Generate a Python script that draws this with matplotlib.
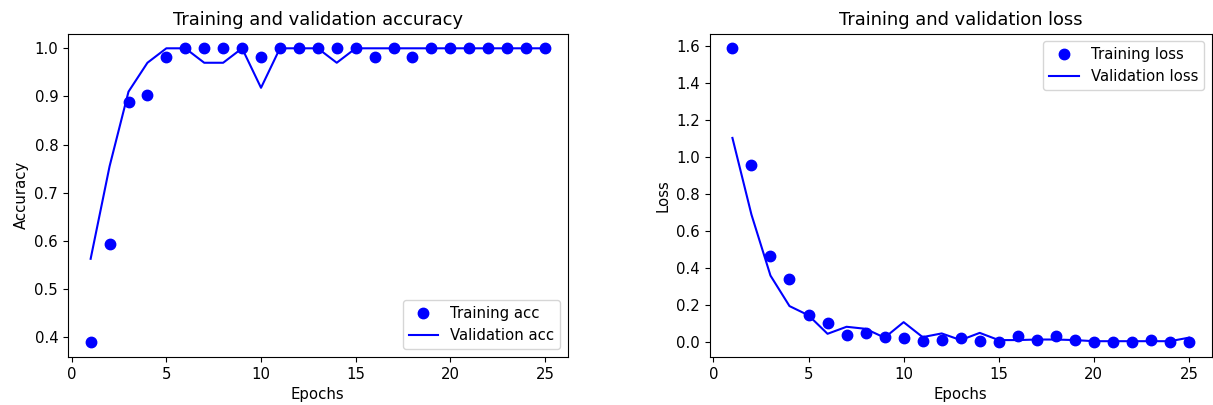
import matplotlib
matplotlib.use("Agg")
import matplotlib.pyplot as plt

epochs = list(range(1, 26))

train_acc = [0.39, 0.593, 0.888, 0.904, 0.981, 1.0, 1.0, 1.0, 1.0, 0.981,
             1.0, 1.0, 1.0, 1.0, 1.0, 0.981, 1.0, 0.981, 1.0, 1.0,
             1.0, 1.0, 1.0, 1.0, 1.0]
val_acc = [0.563, 0.755, 0.91, 0.97, 1.0, 1.0, 0.97, 0.97, 1.0, 0.918,
           1.0, 1.0, 1.0, 0.97, 1.0, 1.0, 1.0, 1.0, 1.0, 1.0,
           1.0, 1.0, 1.0, 1.0, 1.0]

train_loss = [1.59, 0.96, 0.467, 0.34, 0.145, 0.105, 0.036, 0.047, 0.029, 0.024,
              0.005, 0.014, 0.024, 0.005, 0.0, 0.033, 0.01, 0.033, 0.01, 0.0,
              0.0, 0.0, 0.01, 0.0, 0.0]
val_loss = [1.105, 0.69, 0.36, 0.195, 0.145, 0.045, 0.083, 0.072, 0.024, 0.108,
            0.027, 0.047, 0.011, 0.05, 0.011, 0.011, 0.014, 0.014, 0.011, 0.005,
            0.005, 0.005, 0.005, 0.005, 0.024]

plt.rcParams["font.size"] = 10.7
plt.rcParams["axes.titlesize"] = 12.9

fig = plt.figure(figsize=(12.13, 4.05), dpi=100)
ax1 = fig.add_axes([0.056, 0.119, 0.412, 0.798])
ax2 = fig.add_axes([0.585, 0.119, 0.414, 0.798])

ax1.plot(epochs, train_acc, "bo", markersize=7.5, label="Training acc")
ax1.plot(epochs, val_acc, "b", linewidth=1.5, label="Validation acc")
ax1.set_title("Training and validation accuracy")
ax1.set_xlabel("Epochs")
ax1.set_ylabel("Accuracy")
ax1.legend(loc="lower right")

ax2.plot(epochs, train_loss, "bo", markersize=7.5, label="Training loss")
ax2.plot(epochs, val_loss, "b", linewidth=1.5, label="Validation loss")
ax2.set_title("Training and validation loss")
ax2.set_xlabel("Epochs")
ax2.set_ylabel("Loss")
ax2.legend(loc="upper right")

fig.savefig("out.png", dpi=100)
